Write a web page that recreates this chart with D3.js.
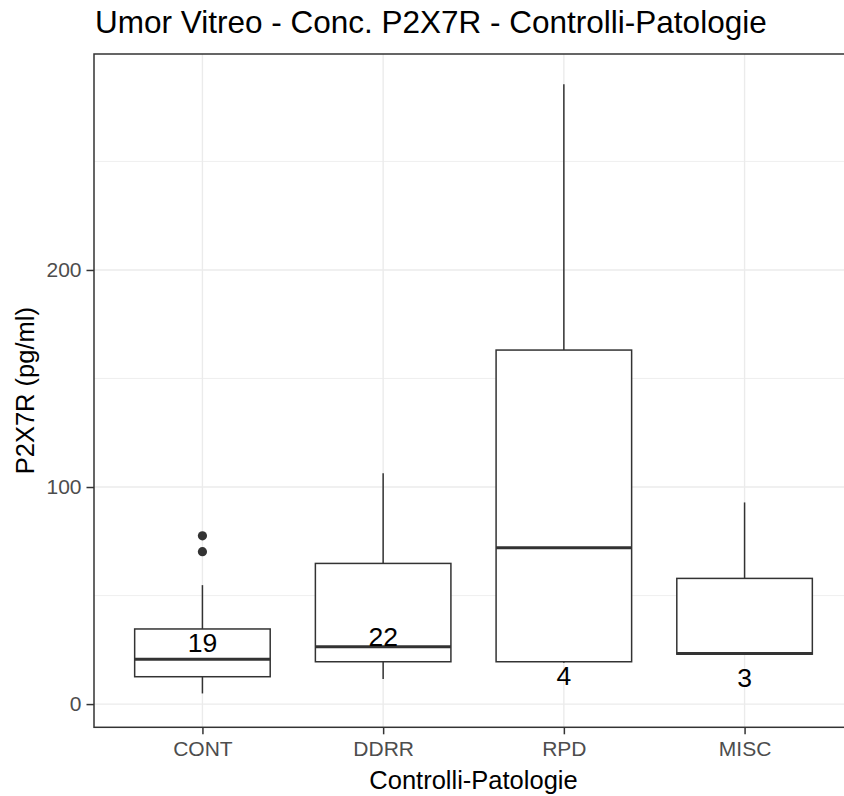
<!DOCTYPE html>
<html>
<head>
<meta charset="utf-8">
<script src="https://cdn.jsdelivr.net/npm/d3@7"></script>
<style>
  body { margin: 0; background: #fff; }
  svg { display: block; font-family: "Liberation Sans", Arial, sans-serif; }
</style>
</head>
<body>
<script>
// data
var groups = ["CONT", "DDRR", "RPD", "MISC"];
var lower   = [4.9, 11.5, 19.0, 23.0];
var q1      = [12.6, 19.5, 19.5, 23.0];
var median  = [20.7, 26.4, 72.0, 23.3];
var q3      = [34.6, 64.8, 163.1, 57.9];
var upper   = [54.8, 106.3, 285.6, 92.9];
var outliers = [["CONT", 70.2], ["CONT", 77.5]];
var counts  = [19, 22, 4, 3];
var countY  = [28.6, 31.0, 13.4, 12.3];
var yMajor = [0, 100, 200];
var yMinor = [50, 150, 250];

var W = 844, H = 796;
var panel = {left: 94, top: 54, right: 853, bottom: 727.3};

var svg = d3.select("body").append("svg")
    .attr("width", W)
    .attr("height", H);

// discrete scale, ggplot style expansion of 0.6 on both sides
var x = d3.scaleLinear()
    .domain([0.4, groups.length + 0.6])
    .range([panel.left, panel.right]);
var step = x(2) - x(1);
var boxW = 0.75 * step;

var y = d3.scaleLinear()
    .domain([-10.7, 299.5])
    .range([panel.bottom, panel.top]);

var boxes = groups.map(function(g, i) {
    return {name: g, pos: i + 1, lo: lower[i], q1: q1[i], med: median[i], q3: q3[i], hi: upper[i],
            n: counts[i], ny: countY[i]};
});

var plot = svg.append("g");
var lw = 1.5;

// grid
plot.selectAll(".minor").data(yMinor).enter().append("line")
    .attr("x1", panel.left).attr("x2", panel.right)
    .attr("y1", function(d) { return y(d); }).attr("y2", function(d) { return y(d); })
    .attr("stroke", "#EBEBEB").attr("stroke-width", 0.8);
plot.selectAll(".major").data(yMajor).enter().append("line")
    .attr("x1", panel.left).attr("x2", panel.right)
    .attr("y1", function(d) { return y(d); }).attr("y2", function(d) { return y(d); })
    .attr("stroke", "#EBEBEB").attr("stroke-width", 1.4);
plot.selectAll(".vgrid").data(boxes).enter().append("line")
    .attr("x1", function(d) { return x(d.pos); }).attr("x2", function(d) { return x(d.pos); })
    .attr("y1", panel.top).attr("y2", panel.bottom)
    .attr("stroke", "#EBEBEB").attr("stroke-width", 1.4);

// whiskers
var bx = plot.selectAll(".box").data(boxes).enter().append("g");
bx.append("line")
    .attr("x1", function(d) { return x(d.pos); }).attr("x2", function(d) { return x(d.pos); })
    .attr("y1", function(d) { return y(d.q3); }).attr("y2", function(d) { return y(d.hi); })
    .attr("stroke", "#333333").attr("stroke-width", lw);
bx.append("line")
    .attr("x1", function(d) { return x(d.pos); }).attr("x2", function(d) { return x(d.pos); })
    .attr("y1", function(d) { return y(d.q1); }).attr("y2", function(d) { return y(d.lo); })
    .attr("stroke", "#333333").attr("stroke-width", lw);
bx.append("rect")
    .attr("x", function(d) { return x(d.pos) - boxW / 2; })
    .attr("width", boxW)
    .attr("y", function(d) { return y(d.q3); })
    .attr("height", function(d) { return y(d.q1) - y(d.q3); })
    .attr("fill", "#fff").attr("stroke", "#333333").attr("stroke-width", lw);
bx.append("line")
    .attr("x1", function(d) { return x(d.pos) - boxW / 2; })
    .attr("x2", function(d) { return x(d.pos) + boxW / 2; })
    .attr("y1", function(d) { return y(d.med); }).attr("y2", function(d) { return y(d.med); })
    .attr("stroke", "#333333").attr("stroke-width", 3);

// outliers
plot.selectAll(".out").data(outliers).enter().append("circle")
    .attr("cx", function(d) { return x(groups.indexOf(d[0]) + 1); })
    .attr("cy", function(d) { return y(d[1]); })
    .attr("r", 4.6)
    .attr("fill", "#333333");

// count labels
plot.selectAll(".count").data(boxes).enter().append("text")
    .attr("x", function(d) { return x(d.pos); })
    .attr("y", function(d) { return y(d.ny); })
    .attr("dy", "0.36em")
    .attr("text-anchor", "middle")
    .attr("font-size", 26.5)
    .attr("fill", "#000")
    .text(function(d) { return d.n; });

// panel border
svg.append("rect")
    .attr("x", panel.left).attr("y", panel.top)
    .attr("width", panel.right - panel.left).attr("height", panel.bottom - panel.top)
    .attr("fill", "none").attr("stroke", "#333333").attr("stroke-width", lw);

// axes
var yAxis = svg.append("g")
    .attr("transform", "translate(" + panel.left + ",0)")
    .call(d3.axisLeft(y).tickValues(yMajor).tickSize(7.5).tickPadding(5));
var xAxis = svg.append("g")
    .attr("transform", "translate(0," + panel.bottom + ")")
    .call(d3.axisBottom(x).tickValues([1, 2, 3, 4])
        .tickFormat(function(d) { return groups[d - 1]; })
        .tickSize(7).tickPadding(7));
[xAxis, yAxis].forEach(function(a) {
    a.select(".domain").remove();
    a.selectAll(".tick line").attr("stroke", "#333333").attr("stroke-width", lw);
    a.selectAll(".tick text")
        .attr("fill", "#4D4D4D")
        .attr("font-size", 21)
        .attr("font-family", "Liberation Sans, Arial, sans-serif");
});

// titles
svg.append("text")
    .attr("x", 95).attr("y", 33)
    .attr("font-size", 31.5)
    .attr("fill", "#000")
    .text("Umor Vitreo - Conc. P2X7R - Controlli-Patologie");

svg.append("text")
    .attr("x", x(2.5)).attr("y", 789)
    .attr("text-anchor", "middle")
    .attr("font-size", 25.5)
    .attr("fill", "#000")
    .text("Controlli-Patologie");

svg.append("text")
    .attr("transform", "translate(34," + ((panel.top + panel.bottom) / 2) + ") rotate(-90)")
    .attr("text-anchor", "middle")
    .attr("font-size", 25.5)
    .attr("fill", "#000")
    .text("P2X7R (pg/ml)");
</script>
</body>
</html>
